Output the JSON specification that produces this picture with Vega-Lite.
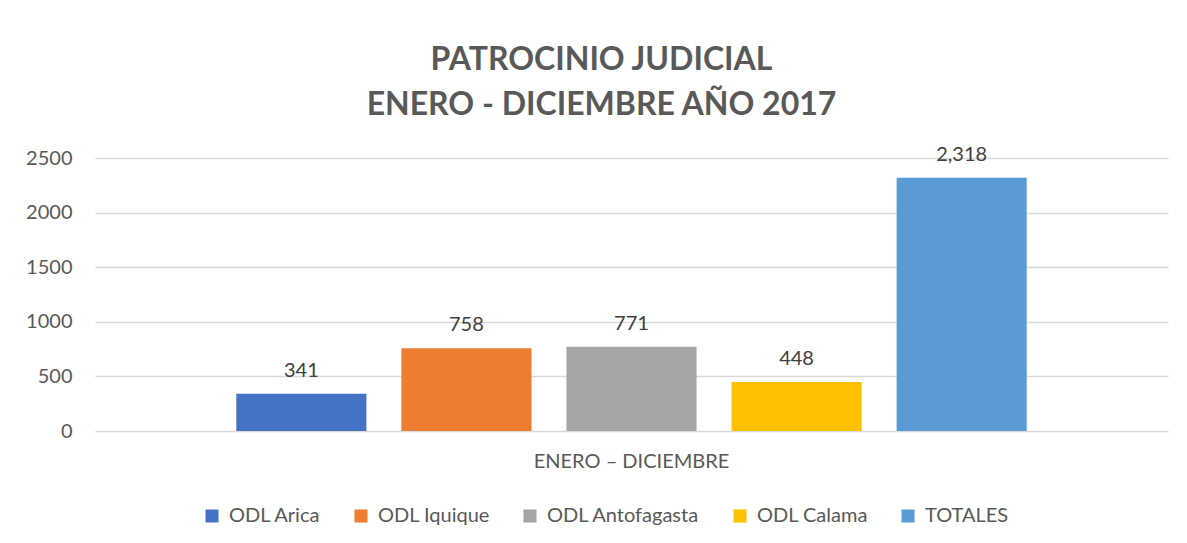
{
  "$schema": "https://vega.github.io/schema/vega-lite/v6.json",
  "width": 1073,
  "height": 273,
  "autosize": {"type": "none"},
  "padding": {"left": 95, "top": 158, "right": 19, "bottom": 112},
  "background": "white",
  "title": {
    "text": ["PATROCINIO JUDICIAL", "ENERO - DICIEMBRE AÑO 2017"],
    "font": "Lato",
    "fontSize": 32,
    "fontWeight": "bold",
    "color": "#595959",
    "lineHeight": 45,
    "anchor": "middle",
    "frame": "group",
    "dx": -30,
    "offset": 23
  },
  "data": {
    "values": [
      {"periodo": "ENERO – DICIEMBRE", "serie": "ODL Arica", "orden": 1, "valor": 341},
      {"periodo": "ENERO – DICIEMBRE", "serie": "ODL Iquique", "orden": 2, "valor": 758},
      {"periodo": "ENERO – DICIEMBRE", "serie": "ODL Antofagasta", "orden": 3, "valor": 771},
      {"periodo": "ENERO – DICIEMBRE", "serie": "ODL Calama", "orden": 4, "valor": 448},
      {"periodo": "ENERO – DICIEMBRE", "serie": "TOTALES", "orden": 5, "valor": 2318}
    ]
  },
  "encoding": {
    "x": {
      "field": "periodo",
      "type": "nominal",
      "scale": {"paddingInner": 0, "paddingOuter": 0.15},
      "axis": {
        "title": null,
        "domain": false,
        "ticks": false,
        "labelAngle": 0,
        "labelPadding": 20,
        "labelLimit": 600,
        "labelFont": "Lato",
        "labelFontSize": 20,
        "labelColor": "#595959"
      }
    },
    "xOffset": {
      "field": "serie",
      "type": "nominal",
      "sort": ["ODL Arica", "ODL Iquique", "ODL Antofagasta", "ODL Calama", "TOTALES"],
      "scale": {"paddingInner": 0.212, "paddingOuter": 0.106}
    },
    "y": {
      "field": "valor",
      "type": "quantitative",
      "scale": {"domain": [0, 2500]},
      "axis": {
        "title": null,
        "values": [0, 500, 1000, 1500, 2000, 2500],
        "format": "d",
        "domain": false,
        "ticks": false,
        "labelPadding": 23,
        "labelFont": "Lato",
        "labelFontSize": 20,
        "labelColor": "#595959",
        "gridColor": "#d9d9d9",
        "gridWidth": 1.3
      }
    }
  },
  "layer": [
    {
      "mark": {"type": "bar"},
      "encoding": {
        "color": {
          "field": "serie",
          "type": "nominal",
          "sort": ["ODL Arica", "ODL Iquique", "ODL Antofagasta", "ODL Calama", "TOTALES"],
          "scale": {
            "domain": ["ODL Arica", "ODL Iquique", "ODL Antofagasta", "ODL Calama", "TOTALES"],
            "range": ["#4472C4", "#ED7D31", "#A5A5A5", "#FFC000", "#5B9BD5"]
          },
          "legend": {
            "title": null,
            "orient": "none",
            "legendX": 107,
            "legendY": 348,
            "direction": "horizontal",
            "symbolType": "square",
            "symbolSize": 170,
            "symbolStrokeWidth": 0,
            "labelFont": "Lato",
            "labelFontSize": 20,
            "labelColor": "#595959",
            "labelOffset": 7,
            "columnPadding": 30
          }
        }
      }
    },
    {
      "mark": {"type": "text", "baseline": "bottom", "dy": -13, "font": "Lato", "fontSize": 20, "color": "#404040"},
      "encoding": {
        "text": {"field": "valor", "type": "quantitative", "format": ","}
      }
    }
  ],
  "config": {
    "view": {"stroke": null}
  }
}
